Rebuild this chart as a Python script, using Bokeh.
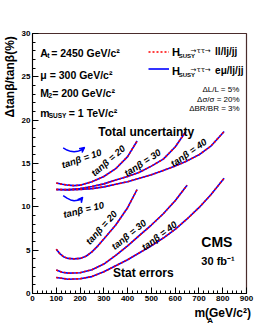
from math import radians
from bokeh.plotting import figure
from bokeh.models import (Label, Range1d, Legend, LegendItem, Arrow, VeeHead, SingleIntervalTicker,
                          LinearAxis, FixedTicker)
from bokeh.embed import file_html
from bokeh.resources import INLINE

# ---------------- data ----------------
# Total uncertainty
tot_mA_10 = [129, 145, 160, 175, 190, 205, 219]
tot_10 = [16.8, 16.55, 16.4, 16.35, 16.4, 16.55, 16.85]
tot_mA_20 = [100, 125, 150, 175, 200, 250, 300, 350, 400, 440]
tot_20 = [12.75, 12.6, 12.5, 12.45, 12.5, 12.9, 13.5, 14.4, 15.8, 17.6]
tot_mA_30 = [100, 150, 200, 250, 300, 350, 400, 450, 500, 550, 600, 645]
tot_30 = [12.0, 12.0, 12.1, 12.35, 12.65, 13.1, 13.5, 14.0, 14.7, 15.5, 16.9, 18.7]
tot_mA_40 = [100, 150, 200, 250, 300, 350, 400, 450, 500, 550, 600, 650, 700, 750, 806]
tot_40 = [12.0, 11.95, 12.0, 12.1, 12.3, 12.6, 12.9, 13.3, 13.7, 14.2, 14.7, 15.3, 16.0, 17.0, 18.7]
# Statistical errors
st_mA_10 = [129, 145, 160, 175, 190, 205, 211]
st_10 = [11.3, 11.0, 10.8, 10.7, 10.75, 10.9, 11.1]
st_mA_20 = [100, 115, 130, 150, 175, 200, 225, 250, 275, 300, 350, 400, 440]
st_20 = [5.1, 4.6, 4.25, 4.05, 4.0, 4.05, 4.3, 4.8, 5.5, 6.3, 7.9, 9.9, 12.0]
st_mA_30 = [100, 125, 150, 200, 250, 300, 350, 400, 450, 500, 550, 600, 650]
st_30 = [2.7, 2.45, 2.35, 2.4, 2.75, 3.4, 4.4, 5.5, 6.7, 7.9, 9.2, 10.7, 12.5]
st_mA_40 = [100, 150, 200, 250, 300, 350, 400, 450, 500, 550, 600, 650, 700, 750, 806]
st_40 = [1.85, 1.65, 1.7, 1.95, 2.5, 3.2, 3.9, 4.7, 5.5, 6.4, 7.4, 8.6, 9.9, 11.4, 13.3]

x_ticks_interval = 100
y_ticks_interval = 5
y_title = "Δtanβ/tanβ(%)"
x_title_parts = ["m", "A", "(GeV/c²)"]

NARROW = "Liberation Sans Narrow, Liberation Sans, sans-serif"

# frame edges in page pixels
FL, FR, FT, FB = 28, 246, 33, 293
W, H = 274, 327
p = figure(width=W, height=H, output_backend="svg", toolbar_location=None,
           x_range=Range1d(0, 900), y_range=Range1d(0, 30),
           min_border_left=FL, min_border_right=W - FR, min_border_top=FT, min_border_bottom=H - FB)
p.xgrid.visible = False
p.ygrid.visible = False
p.outline_line_color = "#4a2c2c"
p.outline_line_width = 1.2
p.background_fill_color = "white"
p.border_fill_color = "white"

p.xaxis.ticker = SingleIntervalTicker(interval=x_ticks_interval, num_minor_ticks=5)
p.yaxis.ticker = SingleIntervalTicker(interval=y_ticks_interval, num_minor_ticks=5)
for ax in (p.xaxis[0], p.yaxis[0]):
    ax.major_tick_in = 6
    ax.major_tick_out = 0
    ax.minor_tick_in = 3
    ax.minor_tick_out = 0
    ax.axis_line_color = "black"
    ax.major_tick_line_color = "black"
    ax.minor_tick_line_color = "black"
    ax.major_label_text_font = NARROW
    ax.major_label_text_font_style = "bold"
    ax.major_label_text_font_size = "8px"
    ax.major_label_text_color = "black"
    ax.major_label_standoff = 2

blue_r = red_r = None
for xs, ys in [(tot_mA_20, tot_20), (tot_mA_30, tot_30), (tot_mA_40, tot_40),
               (st_mA_20, st_20), (st_mA_30, st_30), (st_mA_40, st_40)]:
    b = p.line(xs, ys, line_color="blue", line_width=1.6)
    r = p.line(xs, ys, line_color="red", line_width=1.6, line_dash="2 2")
    if blue_r is None:
        blue_r, red_r = b, r

for xs, ys in [(tot_mA_10, tot_10), (st_mA_10, st_10)]:
    p.line(xs, ys, line_color="blue", line_width=1.5)
    p.add_layout(Arrow(end=VeeHead(size=5, line_color="blue", line_width=1.3, fill_alpha=0),
                       x_start=xs[-2], y_start=ys[-2], x_end=xs[-1], y_end=ys[-1],
                       line_alpha=0))

legend = Legend(items=[LegendItem(label=" ", renderers=[red_r]),
                       LegendItem(label=" ", renderers=[blue_r])],
                location=(116, 216), glyph_width=21, glyph_height=17, label_height=17,
                label_width=1, spacing=0, padding=0, margin=0, label_standoff=0,
                label_text_font_size="2px", background_fill_alpha=0, border_line_alpha=0)
p.add_layout(legend)


# ---------------- text helpers (page-pixel positions) ----------------
def X(px):
    return (px - FL) * 900 / (FR - FL)


def Y(py):
    return (FB - py) * 30 / (FB - FT)


def txt(s, px, py, size, style="bold", align="left", baseline="middle", angle=0, font=NARROW):
    p.add_layout(Label(x=X(px), y=Y(py), text=s, text_font=font, text_font_size=f"{size}px",
                       text_font_style=style, text_align=align, text_baseline=baseline,
                       angle=radians(angle), text_color="black"))


def text_axis(place, labels, size, standoff, orientation="horizontal"):
    ticks = [int(round(t)) for t, _ in labels]
    ax = LinearAxis(ticker=FixedTicker(ticks=ticks, minor_ticks=[]),
                    major_label_overrides={t: s for t, (_, s) in zip(ticks, labels)},
                    axis_line_alpha=0, major_tick_line_alpha=0, minor_tick_line_alpha=0,
                    major_tick_in=0, major_tick_out=0, minor_tick_in=0, minor_tick_out=0,
                    major_label_standoff=standoff, major_label_orientation=orientation,
                    major_label_text_font=NARROW, major_label_text_font_style="bold",
                    major_label_text_font_size=f"{size}px", major_label_text_color="black")
    p.add_layout(ax, place)


# parameters
txt("A", 36, 52, 10.5)
txt("t", 43, 55, 7)
txt("= 2450 GeV/c²", 47, 52, 10.5)
txt("μ = 300 GeV/c²", 36, 74, 10.5)
txt("M", 36, 92, 10.5)
txt("2", 44, 95, 7)
txt("= 200 GeV/c²", 48, 92, 10.5)
txt("m", 36, 112, 10.5)
txt("SUSY", 44.5, 115, 6.5)
txt("= 1 TeV/c²", 65, 112, 10.5)

# legend text
for py, tail in [(51, "ll/lj/jj"), (70, "eμ/lj/jj")]:
    txt("H", 170, py, 11)
    txt("SUSY", 177, py + 4, 6)
    txt("→ττ→", 189, py - 1, 7, style="normal", font="DejaVu Sans")
    txt(tail, 214, py, 10)

txt("ΔL/L = 5%", 239, 89, 8, style="normal", align="right")
txt("Δσ/σ = 20%", 239, 99, 8, style="normal", align="right")
txt("ΔBR/BR = 3%", 239, 108, 8, style="normal", align="right")

txt("Total uncertainty", 95, 131, 12)
txt("Stat errors", 110, 272, 12)
txt("CMS", 200, 241, 14)
txt("30 fb⁻¹", 200, 260, 11)

# tan beta labels
for s, cx, cy, ang in [("tanβ = 10", 78, 158, 19), ("tanβ = 10", 80, 209, 14),
                       ("tanβ = 20", 105, 160, 41), ("tanβ = 30", 140, 162, 33),
                       ("tanβ = 40", 187, 152, 35), ("tanβ = 20", 98, 227, 48),
                       ("tanβ = 30", 126, 234, 39), ("tanβ = 40", 157, 235, 37)]:
    txt(s, cx, cy, 9.5, style="bold italic", align="center", angle=ang)

# axis titles (as label-only axes so they sit outside the frame)
text_axis("left", [(Y(76), y_title)], 12, 1, orientation="vertical")
text_axis("below", [(X(198.5), x_title_parts[0]), (X(227), x_title_parts[2])], 12, 2)
text_axis("below", [(X(209), x_title_parts[1])], 8, -7)

open("out.html", "w").write(file_html(p, INLINE))
